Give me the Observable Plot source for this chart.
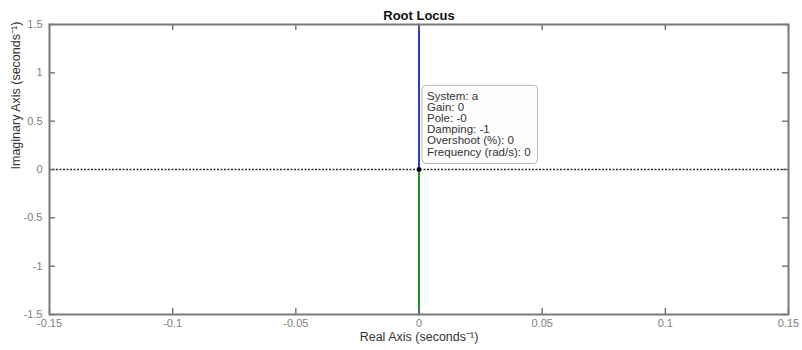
<!DOCTYPE html>
<html><head><meta charset="utf-8">
<script src="https://cdn.jsdelivr.net/npm/d3@7"></script>
<script src="https://cdn.jsdelivr.net/npm/@observablehq/plot@0.6"></script>
<style>body{margin:0;background:#fff} svg{display:block}</style>
</head><body><div id="chart"></div>
<script>
const title = "Root Locus";
const xLabel = "Real Axis (seconds⁻¹)";
const yLabel = "Imaginary Axis (seconds⁻¹)";
const xTicks = [-0.15, -0.1, -0.05, 0, 0.05, 0.1, 0.15];
const yTicks = [-1.5, -1, -0.5, 0, 0.5, 1, 1.5];
const upReal = [0, 0];
const upImag = [0, 1.5];
const downReal = [0, 0];
const downImag = [0, -1.5];
const poleReal = [0];
const poleImag = [0];
const tipLines = ["System: a", "Gain: 0", "Pole: -0", "Damping: -1", "Overshoot (%): 0", "Frequency (rad/s): 0"];

const W = 802, H = 350, mL = 49, mR = 14, mT = 24, mB = 36;
const pw = W - mL - mR, ph = H - mT - mB, tk = 6;
const up = upReal.map((r, i) => ({re: r, im: upImag[i]}));
const down = downReal.map((r, i) => ({re: r, im: downImag[i]}));
const poles = poleReal.map((r, i) => ({re: r, im: poleImag[i], label: tipLines.join("\n")}));
const fmt = d => String(d);
const font = "'Liberation Sans', Arial, Helvetica, sans-serif";

const svg = Plot.plot({
  width: W, height: H,
  marginLeft: mL, marginRight: mR, marginTop: mT, marginBottom: mB,
  style: {fontFamily: font, fontSize: "11px", background: "#fff", overflow: "visible"},
  x: {domain: [-0.15, 0.15]},
  y: {domain: [-1.5, 1.5]},
  marks: [
    Plot.ruleY([0], {stroke: "#333", strokeWidth: 1.3, strokeDasharray: "2,1.5"}),
    Plot.line(up, {x: "re", y: "im", stroke: "#2a3dc8", strokeWidth: 2}),
    Plot.line(down, {x: "re", y: "im", stroke: "#1f941f", strokeWidth: 2}),
    Plot.tickX(xTicks, {x: d => d, insetTop: ph - tk, stroke: "#666", strokeWidth: 1.3}),
    Plot.tickX(xTicks, {x: d => d, insetBottom: ph - tk, stroke: "#666", strokeWidth: 1.3}),
    Plot.tickY(yTicks, {y: d => d, insetRight: pw - tk, stroke: "#666", strokeWidth: 1.3}),
    Plot.tickY(yTicks, {y: d => d, insetLeft: pw - tk, stroke: "#666", strokeWidth: 1.3}),
    Plot.frame({stroke: "#7a7a7a", strokeWidth: 2}),
    Plot.axisX(xTicks, {anchor: "bottom", tickSize: 0, tickPadding: 5, tickFormat: fmt, label: null, fill: "#808080", fontSize: 11}),
    Plot.axisY(yTicks, {anchor: "left", tickSize: 0, tickPadding: 7, tickFormat: fmt, label: null, fill: "#808080", fontSize: 11}),
    Plot.text([title], {frameAnchor: "top", dy: -14, text: d => d, fontWeight: "bold", fontSize: 13, fill: "#111"}),
    Plot.text([xLabel], {frameAnchor: "bottom", dy: 26, text: d => d, fontSize: 12.5, fill: "#333"}),
    Plot.text([yLabel], {frameAnchor: "left", dx: -34, rotate: -90, text: d => d, fontSize: 12.5, fill: "#333"}),
    Plot.text(poles, {x: "re", y: "im", text: "label", textAnchor: "start", lineAnchor: "bottom", lineHeight: 0.96, dx: 8, dy: -14, fontSize: 11.5, fill: "#333", className: "tiptext"}),
    Plot.dot(poles, {x: "re", y: "im", symbol: "square", r: 2.3, fill: "#000", stroke: "none"})
  ]
});
document.getElementById("chart").appendChild(svg);
const tg = svg.querySelector("g.tiptext") || svg.querySelector(".tiptext");
if (tg) {
  const bb = tg.getBBox();
  const ns = "http://www.w3.org/2000/svg";
  const rect = document.createElementNS(ns, "rect");
  rect.setAttribute("x", bb.x - 5);
  rect.setAttribute("y", bb.y - 5);
  rect.setAttribute("width", bb.width + 12);
  rect.setAttribute("height", bb.height + 11);
  rect.setAttribute("rx", 4);
  rect.setAttribute("fill", "#fdfdfd");
  rect.setAttribute("stroke", "#b5b5b5");
  rect.setAttribute("stroke-width", 1);
  tg.insertBefore(rect, tg.firstChild);
}
</script></body></html>
